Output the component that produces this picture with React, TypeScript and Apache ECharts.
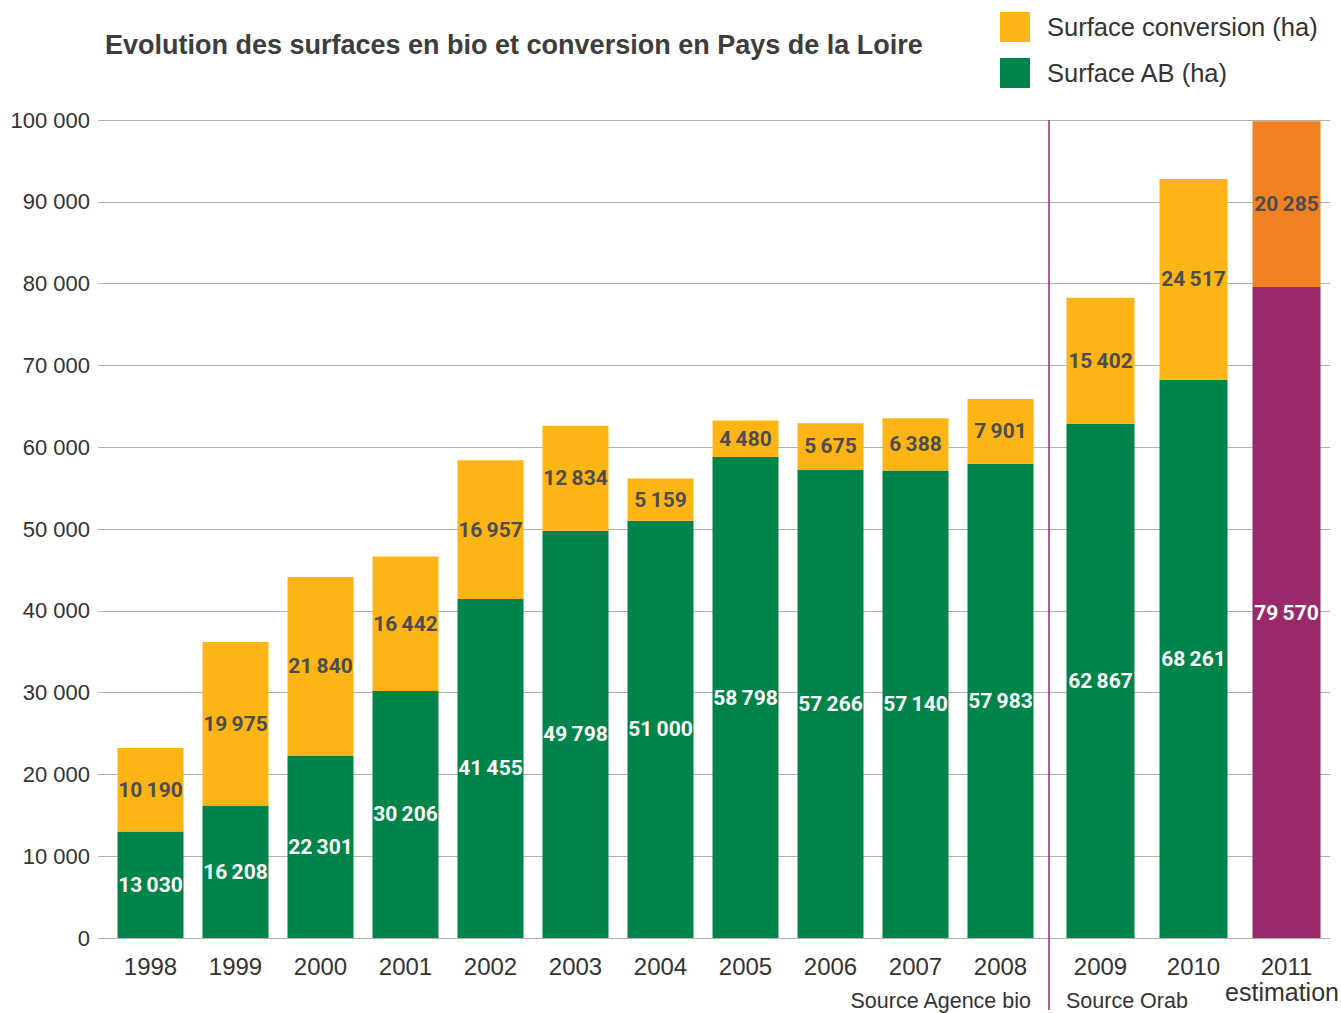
import React, { useEffect, useRef } from "react";
import * as echarts from "echarts";

const yearsA = ["1998", "1999", "2000", "2001", "2002", "2003", "2004", "2005", "2006", "2007", "2008"];
const abA = [13030, 16208, 22301, 30206, 41455, 49798, 51000, 58798, 57266, 57140, 57983];
const convA = [10190, 19975, 21840, 16442, 16957, 12834, 5159, 4480, 5675, 6388, 7901];
const yearsB = ["2009", "2010", "2011"];
const abB = [62867, 68261, 79570];
const convB = [15402, 24517, 20285];
const yTicks = [0, 10000, 20000, 30000, 40000, 50000, 60000, 70000, 80000, 90000, 100000];

const GREEN = "#00844A";
const YELLOW = "#FDB515";
const ORANGE = "#F28124";
const PURPLE = "#99296B";
const GRID = "#B5B1A3";
const TEXT = "#333333";
const LABEL_DARK = "#4D4D4D";
const NUM_FONT = "Roboto, 'Liberation Sans', sans-serif";
const FONT = "'Liberation Sans', Arial, sans-serif";

const fmt = (v: number) => String(v).replace(/\B(?=(\d{3})+(?!\d))/g, "\u2009");

export default function App() {
  const ref = useRef<HTMLDivElement>(null);
  useEffect(() => {
    if (!ref.current) return;
    const chart = echarts.init(ref.current, null, { renderer: "svg" });
    const top = 120;
    const bottom = 75;
    const labelStyle = (color: string) => ({
      show: true,
      position: "inside" as const,
      color,
      fontFamily: NUM_FONT,
      fontWeight: "bold" as const,
      fontSize: 21,
      formatter: (p: any) => fmt(p.value),
    });
    const xLabel = {
      color: TEXT,
      fontSize: 24,
      fontFamily: FONT,
      margin: 16,
    };
    chart.setOption({
      animation: false,
      title: {
        text: "Evolution des surfaces en bio et conversion en Pays de la Loire",
        left: 105,
        top: 31,
        padding: 0,
        textStyle: { fontSize: 27, fontWeight: "bold", color: "#3d3d3d", fontFamily: FONT },
      },
      legend: {
        orient: "vertical",
        left: 1000,
        top: 12,
        padding: 0,
        itemWidth: 30,
        itemHeight: 30,
        itemGap: 16,
        icon: "rect",
        data: ["Surface conversion (ha)", "Surface AB (ha)"],
        textStyle: { fontSize: 25.5, color: TEXT, fontFamily: FONT, padding: [0, 0, 0, 12] },
      },
      grid: [
        { left: 98, right: 11, top, bottom },
        { left: 108, width: 935, top, bottom },
        { left: 1054, right: 8, top, bottom },
      ],
      xAxis: [
        { gridIndex: 0, type: "value", show: false, min: 0, max: 1 },
        {
          gridIndex: 1,
          type: "category",
          data: yearsA,
          axisLine: { show: false },
          axisTick: { show: false },
          axisLabel: xLabel,
        },
        {
          gridIndex: 2,
          type: "category",
          data: yearsB,
          axisLine: { show: false },
          axisTick: { show: false },
          axisLabel: xLabel,
        },
      ],
      yAxis: [
        {
          gridIndex: 0,
          type: "value",
          min: 0,
          max: 100000,
          interval: 10000,
          axisLine: { show: false },
          axisTick: { show: false },
          splitLine: { lineStyle: { color: GRID, width: 1.2 } },
          axisLabel: {
            color: TEXT,
            fontSize: 22,
            fontFamily: FONT,
            margin: 8,
            formatter: (v: number) => (yTicks.includes(v) ? fmt(v).replace("\u2009", " ") : ""),
          },
        },
        { gridIndex: 1, type: "value", min: 0, max: 100000, show: false, splitLine: { show: false } },
        { gridIndex: 2, type: "value", min: 0, max: 100000, show: false, splitLine: { show: false } },
      ],
      series: [
        {
          name: "Surface AB (ha)",
          type: "bar",
          xAxisIndex: 1,
          yAxisIndex: 1,
          stack: "a",
          barWidth: 66,
          data: abA,
          itemStyle: { color: GREEN },
          label: labelStyle("#ffffff"),
        },
        {
          name: "Surface conversion (ha)",
          type: "bar",
          xAxisIndex: 1,
          yAxisIndex: 1,
          stack: "a",
          barWidth: 66,
          data: convA,
          itemStyle: { color: YELLOW },
          label: labelStyle(LABEL_DARK),
        },
        {
          name: "Surface AB (ha)",
          type: "bar",
          xAxisIndex: 2,
          yAxisIndex: 2,
          stack: "b",
          barWidth: 68,
          data: abB.map((v, i) => (i === 2 ? { value: v, itemStyle: { color: PURPLE } } : v)),
          itemStyle: { color: GREEN },
          label: labelStyle("#ffffff"),
        },
        {
          name: "Surface conversion (ha)",
          type: "bar",
          xAxisIndex: 2,
          yAxisIndex: 2,
          stack: "b",
          barWidth: 68,
          data: convB.map((v, i) => (i === 2 ? { value: v, itemStyle: { color: ORANGE } } : v)),
          itemStyle: { color: YELLOW },
          label: labelStyle(LABEL_DARK),
        },
      ],
      graphic: [
        {
          type: "line",
          shape: { x1: 1049, y1: 120, x2: 1049, y2: 1010 },
          style: { stroke: "#9B2A6E", lineWidth: 1.5 },
          z: 10,
        },
        {
          type: "text",
          x: 1031,
          y: 1001,
          style: {
            text: "Source Agence bio",
            fontSize: 21.5,
            fontFamily: FONT,
            fill: TEXT,
            textAlign: "right",
            textVerticalAlign: "middle",
          },
        },
        {
          type: "text",
          x: 1066,
          y: 1001,
          style: {
            text: "Source Orab",
            fontSize: 21.5,
            fontFamily: FONT,
            fill: TEXT,
            textAlign: "left",
            textVerticalAlign: "middle",
          },
        },
        {
          type: "text",
          x: 1282,
          y: 992,
          style: {
            text: "estimation",
            fontSize: 25,
            fontFamily: FONT,
            fill: TEXT,
            textAlign: "center",
            textVerticalAlign: "middle",
          },
        },
      ],
    });
    return () => chart.dispose();
  }, []);
  return (
    <div
      ref={ref}
      style={{ position: "fixed", left: 0, top: 0, width: 1341, height: 1013, background: "#fff" }}
    />
  );
}
